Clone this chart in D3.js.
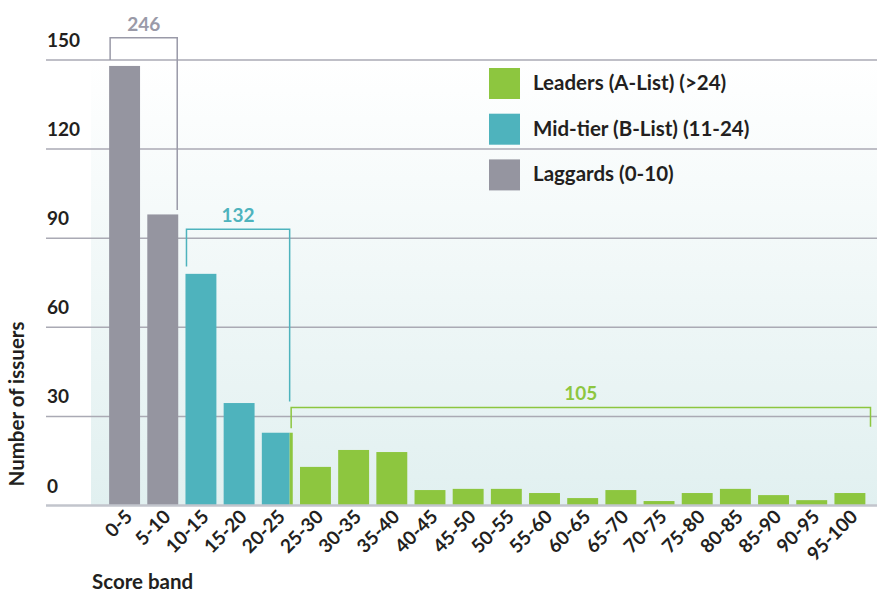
<!DOCTYPE html>
<html>
<head>
<meta charset="utf-8">
<script src="https://cdn.jsdelivr.net/npm/d3@7"></script>
<style>
  body { margin: 0; background: #fff; }
  svg text { font-family: Lato, "Open Sans", sans-serif; font-weight: 700; }
</style>
</head>
<body>
<div id="chart"></div>
<script>
// score bands and issuer counts
var bands = ["0-5","5-10","10-15","15-20","20-25","25-30","30-35","35-40","40-45","45-50",
             "50-55","55-60","60-65","65-70","70-75","75-80","80-85","85-90","90-95","95-100"];
var counts = [148, 98, 78, 34.5, 24.5, 13, 18.7, 18, 5.2, 5.6, 5.6, 4.2, 2.5, 5.2, 1.5, 4.2, 5.6, 3.5, 1.8, 4.2];
// tier of each band: "lag", "mid", "lead"; 20-25 is split mid / lead
var tierOf = ["lag","lag","mid","mid","mid","lead","lead","lead","lead","lead",
              "lead","lead","lead","lead","lead","lead","lead","lead","lead","lead"];
var midShareLast = 0.9; // part of the 20-25 bar that is mid-tier
var yTicks = [0, 30, 60, 90, 120, 150];

var legendLabels = ["Leaders (A-List) (>24)", "Mid-tier (B-List) (11-24)", "Laggards (0-10)"];
var legendKeys = ["lead", "mid", "lag"];
var colors = {lag: "#9595a0", mid: "#4eb3bd", lead: "#8dc63f"};

// group totals shown over brackets
var groupTotals = [246, 132, 105];

var W = 877, H = 594;
var svg = d3.select("#chart").append("svg")
  .attr("width", W)
  .attr("height", H);

var x = d3.scaleBand()
  .domain(bands)
  .range([105.5, 869])
  .paddingInner(0.19)
  .paddingOuter(0.095);

var y = d3.scaleLinear()
  .domain([0, 150])
  .range([505.5, 60]);

// background panel
var defs = svg.append("defs");
var grad = defs.append("linearGradient")
  .attr("id", "bg")
  .attr("x1", 0).attr("y1", 0).attr("x2", 0).attr("y2", 1);
grad.append("stop").attr("offset", "0%").attr("stop-color", "#ffffff");
grad.append("stop").attr("offset", "100%").attr("stop-color", "#e1f0f0");

svg.append("rect")
  .attr("x", 91)
  .attr("y", y(150))
  .attr("width", W - 91)
  .attr("height", y(0) - y(150))
  .attr("fill", "url(#bg)");

// gridlines
svg.append("g")
  .selectAll("line")
  .data(yTicks.filter(function(d) { return d > 0; }))
  .enter().append("line")
  .attr("x1", 46).attr("x2", W)
  .attr("y1", function(d) { return y(d); })
  .attr("y2", function(d) { return y(d); })
  .attr("stroke", "#aaaab4")
  .attr("stroke-width", 1.5);

// bars
var bars = svg.append("g");
bars.selectAll("rect.bar")
  .data(bands)
  .enter().append("rect")
  .attr("class", "bar")
  .attr("x", function(d) { return x(d); })
  .attr("y", function(d, i) { return y(counts[i]); })
  .attr("width", function(d, i) { return i == 4 ? x.bandwidth() * midShareLast : x.bandwidth(); })
  .attr("height", function(d, i) { return y(0) - y(counts[i]); })
  .attr("fill", function(d, i) { return colors[tierOf[i]]; });

// green sliver of the split 20-25 bar
bars.append("rect")
  .attr("x", x("20-25") + x.bandwidth() * midShareLast)
  .attr("y", y(counts[4]))
  .attr("width", x.bandwidth() * (1 - midShareLast))
  .attr("height", y(0) - y(counts[4]))
  .attr("fill", colors.lead);

// baseline
svg.append("line")
  .attr("x1", 46).attr("x2", W)
  .attr("y1", y(0)).attr("y2", y(0))
  .attr("stroke", "#c2c5cc")
  .attr("stroke-width", 2.5);

// y tick labels
svg.append("g")
  .selectAll("text")
  .data(yTicks)
  .enter().append("text")
  .attr("x", 47)
  .attr("y", function(d) { return y(d) - 13; })
  .attr("font-size", 19)
  .attr("fill", "#231f20")
  .text(function(d) { return d; });

// x tick labels
svg.append("g")
  .selectAll("text")
  .data(bands)
  .enter().append("text")
  .attr("transform", function(d) {
    return "translate(" + (x(d) + x.bandwidth() / 2 + 9) + "," + 518 + ") rotate(-45)";
  })
  .attr("text-anchor", "end")
  .attr("font-size", 19)
  .attr("fill", "#231f20")
  .text(function(d) { return d; });

// axis titles
svg.append("text")
  .attr("transform", "translate(24,404) rotate(-90)")
  .attr("text-anchor", "middle")
  .attr("font-size", 20.5)
  .attr("fill", "#231f20")
  .text("Number of issuers");

svg.append("text")
  .attr("x", 92)
  .attr("y", 589)
  .attr("font-size", 20.5)
  .attr("fill", "#231f20")
  .text("Score band");

// brackets
var splitX = x("20-25") + x.bandwidth() * midShareLast;
var brackets = [
  {label: groupTotals[0], color: "#9a9aa8", x1: x("0-5") + 1, x2: x("5-10") + x.bandwidth() - 1,
   top: 157.5, left: 150, right: 99.5},
  {label: groupTotals[1], color: "#4eb3bd", x1: x("10-15") + 1, x2: splitX,
   top: 93, left: 80.5, right: 35},
  {label: groupTotals[2], color: "#8dc63f", x1: splitX + 1.5, x2: x.range()[1] + 1.5,
   top: 33, left: 26, right: 26.5}
];

var br = svg.append("g");
brackets.forEach(function(b) {
  br.append("path")
    .attr("d", "M" + b.x1 + "," + y(b.left) + "V" + y(b.top) + "H" + b.x2 + "V" + y(b.right))
    .attr("fill", "none")
    .attr("stroke", b.color)
    .attr("stroke-width", 1.5);
  br.append("text")
    .attr("x", (b.x1 + b.x2) / 2)
    .attr("y", y(b.top) - 7)
    .attr("text-anchor", "middle")
    .attr("font-size", 19)
    .attr("fill", b.color)
    .text(b.label);
});

// legend
var legend = svg.append("g").attr("transform", "translate(489,68)");
var item = legend.selectAll("g")
  .data(legendLabels)
  .enter().append("g")
  .attr("transform", function(d, i) { return "translate(0," + (i * 45.7) + ")"; });
item.append("rect")
  .attr("width", 31).attr("height", 31)
  .attr("fill", function(d, i) { return colors[legendKeys[i]]; });
item.append("text")
  .attr("x", 44)
  .attr("y", 22)
  .attr("font-size", 20.5)
  .attr("fill", "#231f20")
  .text(function(d) { return d; });
</script>
</body>
</html>
